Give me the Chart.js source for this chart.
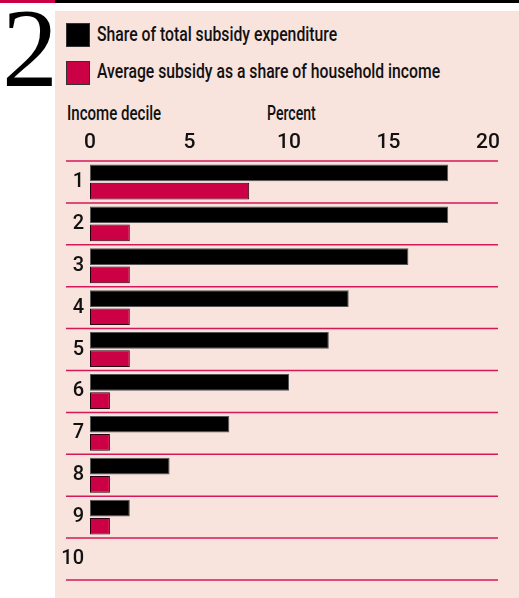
<!DOCTYPE html>
<html>
<head>
<meta charset="utf-8">
<script src="https://cdn.jsdelivr.net/npm/chart.js@4.4.0/dist/chart.umd.min.js"></script>
<style>
    body { margin: 0; width: 519px; height: 598px; background: #fff; overflow: hidden; position: relative;
           font-family: 'Roboto', sans-serif; color: #111; }
    #barra-negra { position: absolute; left: 0; top: 0; width: 519px; height: 3px; background: #000; }
    #barra-roja { position: absolute; left: 0; top: 0; width: 55px; height: 3px; background: #cc0044; }
    #panel { position: absolute; left: 55px; top: 11px; right: 0; bottom: 0; background: #f9e3dd; }
    #numero { position: absolute; left: 2px; top: -8px; font-family: 'Liberation Serif', 'DejaVu Serif', serif;
              font-size: 112px; line-height: 1; color: #000; }
    .cuadro { position: absolute; left: 66px; width: 24px; height: 24px; border: 1px solid #333; box-sizing: border-box; }
    .texto { position: absolute; font-size: 21px; font-weight: 500; line-height: 1; white-space: nowrap; transform-origin: 0 0; }
    #grafico { position: absolute; left: 0; top: 0; }
</style>
</head>
<body>
<div id="barra-negra"></div>
<div id="barra-roja"></div>
<div id="panel"></div>
<div id="numero">2</div>

<div class="cuadro" style="top:23px; background:#000;"></div>
<div class="texto" data-w="240" style="left:97px; top:24px;">Share of total subsidy expenditure</div>
<div class="cuadro" style="top:61px; background:#cc0044;"></div>
<div class="texto" data-w="343" style="left:97px; top:61px;">Average subsidy as a share of household income</div>
<div class="texto" data-w="94" style="left:67px; top:103px;">Income decile</div>
<div class="texto" data-w="49" style="left:267px; top:103px;">Percent</div>

<canvas id="grafico" width="519" height="598"></canvas>

<script>
// Datos del gráfico
const deciles = ['1', '2', '3', '4', '5', '6', '7', '8', '9', '10'];
const shareOfTotal = [18, 18, 16, 13, 12, 10, 7, 4, 2, null];
const shareOfIncome = [8, 2, 2, 2, 2, 1, 1, 1, 1, null];
const xTicks = [0, 5, 10, 15, 20];

const fuente = "'Roboto', sans-serif";

// Estrecha los textos para imitar la letra condensada del original
document.querySelectorAll('.texto').forEach(function(el) {
    const w = Number(el.dataset.w);
    el.style.transform = 'scaleX(' + (w / el.offsetWidth) + ')';
});

// Plugin para las líneas rojas entre deciles
const separadores = {
    id: 'separadores',
    afterDatasetsDraw(chart) {
        const y = chart.scales.y;
        const c = chart.ctx;
        c.save();
        c.strokeStyle = '#d4185a';
        c.lineWidth = 1.5;
        for (let i = 0; i <= deciles.length; i++) {
            const py = y.getPixelForValue(i - 0.5);
            c.beginPath();
            c.moveTo(66, py);
            c.lineTo(498, py);
            c.stroke();
        }
        c.restore();
    }
};

const ctx = document.getElementById('grafico').getContext('2d');
const myChart = new Chart(ctx, {
    type: 'bar',
    data: {
        labels: deciles,
        datasets: [{
            label: 'Share of total subsidy expenditure',
            data: shareOfTotal,
            backgroundColor: '#000000',
            borderColor: '#555555',
            borderWidth: 1,
            borderSkipped: false
        }, {
            label: 'Average subsidy as a share of household income',
            data: shareOfIncome,
            backgroundColor: '#cc0044',
            borderColor: '#2a0010',
            borderWidth: 1,
            borderSkipped: false
        }]
    },
    options: {
        indexAxis: 'y',
        responsive: false,
        animation: false,
        categoryPercentage: 0.867,
        barPercentage: 0.92,
        layout: { padding: { left: 60, right: 31, top: 125, bottom: 10 } },
        plugins: {
            legend: { display: false },
            tooltip: { enabled: false }
        },
        scales: {
            x: {
                position: 'top',
                min: 0,
                max: 20,
                afterBuildTicks: (s) => { s.ticks = xTicks.map(v => ({ value: v })); },
                afterFit: (s) => { s.height = 36; },
                grid: { display: false, drawTicks: false, tickLength: 0 },
                border: { display: false },
                ticks: { color: '#111', padding: 6, maxRotation: 0, font: { family: fuente, size: 21, weight: '500' } }
            },
            y: {
                afterFit: (s) => { s.width = 30; },
                grid: { display: false, drawTicks: false, tickLength: 0 },
                border: { display: false },
                ticks: { color: '#111', padding: 6, font: { family: fuente, size: 20, weight: '500' } }
            }
        }
    },
    plugins: [separadores]
});
</script>
</body>
</html>
